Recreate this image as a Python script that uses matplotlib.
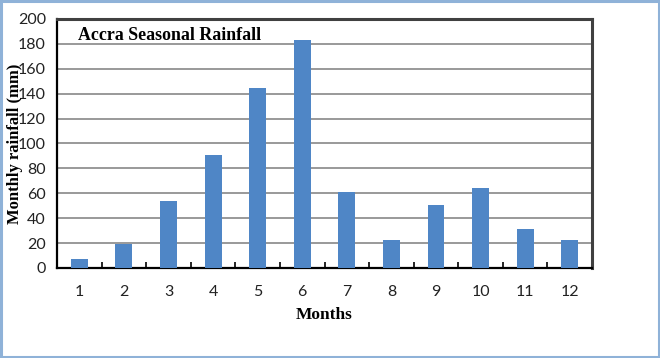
import matplotlib
matplotlib.use("Agg")
import matplotlib.pyplot as plt
from matplotlib.patches import Rectangle

months = [1, 2, 3, 4, 5, 6, 7, 8, 9, 10, 11, 12]
rainfall = [7.2, 19.3, 54, 90.8, 144.6, 183.4, 61.3, 22.5, 50.6, 64, 31.3, 22.5]
yticks = [0, 20, 40, 60, 80, 100, 120, 140, 160, 180, 200]

fig = plt.figure(figsize=(6.6, 3.58), dpi=100)
fig.patch.set_facecolor("white")
fig.patches.append(Rectangle((0.002, 0.003), 0.996, 0.994, transform=fig.transFigure,
                             fill=False, edgecolor="#8fb2d8", linewidth=2.2))

ax = fig.add_axes([0.0864, 0.2514, 0.8106, 0.6956])
ax.bar(months, rainfall, width=0.38, color="#4F86C6", zorder=3)
ax.set_xlim(0.5, 12.5)
ax.set_ylim(0, 200)
ax.set_yticks(yticks)
ax.set_xticks(months)
ax.set_xticks([m + 0.5 for m in months[:-1]], minor=True)
ax.yaxis.grid(True, color="#999999", linewidth=1.4, zorder=0)
ax.set_axisbelow(True)

tick_font = "Lato"
ax.tick_params(axis="y", length=0, pad=8, labelsize=11.5)
ax.tick_params(axis="x", which="major", length=0, pad=12, labelsize=11.5)
ax.tick_params(axis="x", which="minor", direction="in", length=4, width=1.2, color="black")
for lab in ax.get_xticklabels() + ax.get_yticklabels():
    lab.set_fontfamily(tick_font)
    lab.set_color("#222222")

for side in ("left", "bottom"):
    ax.spines[side].set_color("black")
    ax.spines[side].set_linewidth(1.6)
for side in ("top", "right"):
    ax.spines[side].set_color("#404040")
    ax.spines[side].set_linewidth(2.2)

ax.set_xlabel("Months", fontfamily="Liberation Serif", fontweight="bold", fontsize=12.4, labelpad=6)
ax.set_ylabel("Monthly rainfall (mm)", fontfamily="Liberation Serif", fontweight="bold", fontsize=12,
              va="center")
ax.yaxis.set_label_coords(-0.078, 0.5)
ax.text(0.04, 0.935, "Accra Seasonal Rainfall", transform=ax.transAxes,
        fontfamily="Liberation Serif", fontweight="bold", fontsize=12.9, va="center", ha="left")

fig.savefig("out.png", dpi=100)
